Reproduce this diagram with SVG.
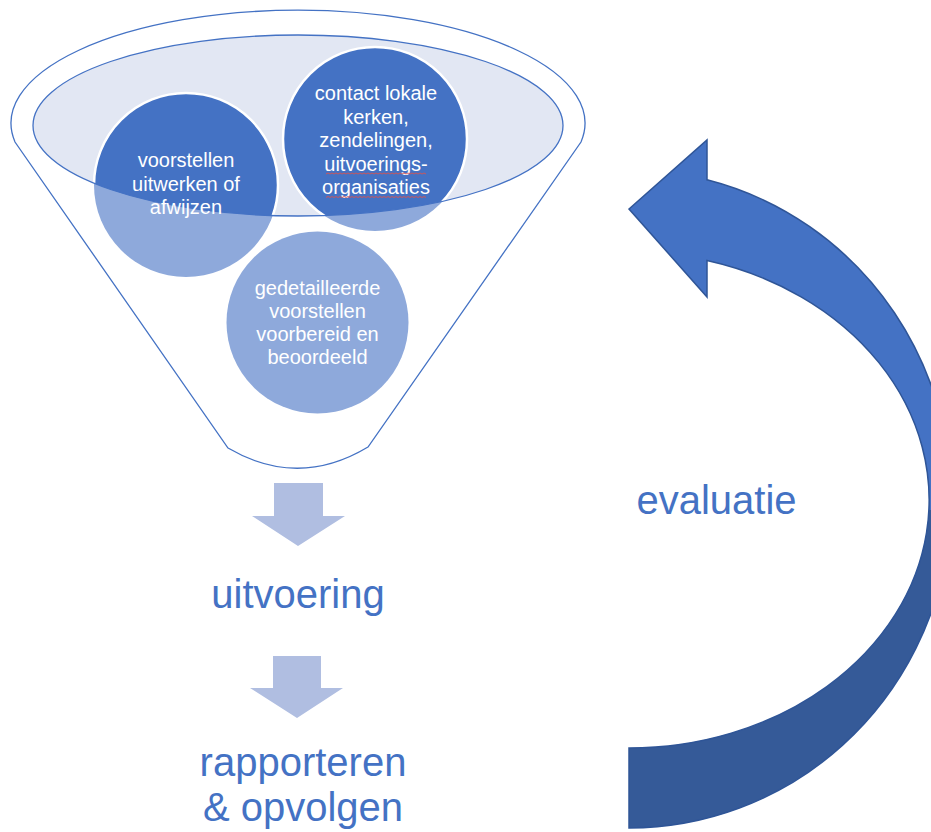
<svg xmlns="http://www.w3.org/2000/svg" width="931" height="832" viewBox="0 0 931 832">
<style>
.ctext{font-family:"Liberation Sans",Arial,sans-serif;font-size:20px;fill:#ffffff;text-anchor:middle}
.big{font-family:"Liberation Sans",Arial,sans-serif;font-size:40px;fill:#4472C4;text-anchor:middle}
.light{fill:#8EA9DB}
.dark{fill:#4472C4;stroke:#ffffff;stroke-width:2.5}
.down{fill:#B0BEE1}
.squig{fill:none;stroke:#D9534F;stroke-width:0.9}
</style>
<defs>
<clipPath id="inner"><ellipse cx="298" cy="125.5" rx="265" ry="90.5"/></clipPath>
</defs>
<g id="funnel">
<path d="M15,142 A287 113 0 1 1 581,142 L368,447 Q298,489 228,448 Z" fill="#ffffff" stroke="#4472C4" stroke-width="1.3"/>
<ellipse cx="298" cy="125.5" rx="265" ry="90.5" fill="#E2E7F3"/>
</g>
<g id="node-voorstellen">
<circle class="light" cx="186" cy="185" r="92"/>
<circle class="dark" cx="186" cy="185" r="92" clip-path="url(#inner)"/>
</g>
<g id="node-contact">
<circle class="light" cx="375" cy="139" r="92"/>
<circle class="dark" cx="375" cy="139" r="92" clip-path="url(#inner)"/>
</g>
<g id="node-gedetailleerde">
<circle class="light" cx="317.5" cy="322.5" r="91"/>
</g>
<ellipse cx="298" cy="125.5" rx="265" ry="90.5" fill="none" stroke="#4472C4" stroke-width="1.3"/>
<g id="labels-circles">
<text class="ctext" x="186" y="167">voorstellen</text>
<text class="ctext" x="186" y="190.5">uitwerken of</text>
<text class="ctext" x="186" y="214">afwijzen</text>
<text class="ctext" x="376" y="100">contact lokale</text>
<text class="ctext" x="376" y="123.5">kerken,</text>
<text class="ctext" x="376" y="147">zendelingen,</text>
<text class="ctext" x="376" y="170.5">uitvoerings-</text>
<text class="ctext" x="376" y="194">organisaties</text>
<path class="squig" d="M326,174 l2,-1 l2,1 l2,-1 l2,1 l2,-1 l2,1 l2,-1 l2,1 l2,-1 l2,1 l2,-1 l2,1 l2,-1 l2,1 l2,-1 l2,1 l2,-1 l2,1 l2,-1 l2,1 l2,-1 l2,1 l2,-1 l2,1 l2,-1 l2,1 l2,-1 l2,1 l2,-1 l2,1 l2,-1 l2,1 l2,-1 l2,1 l2,-1 l2,1 l2,-1 l2,1 l2,-1 l2,1 l2,-1 l2,1 l2,-1 l2,1 l2,-1 l2,1 l2,-1 l2,1 l2,-1 l2,1"/>
<path class="squig" d="M326,197.5 l2,-1 l2,1 l2,-1 l2,1 l2,-1 l2,1 l2,-1 l2,1 l2,-1 l2,1 l2,-1 l2,1 l2,-1 l2,1 l2,-1 l2,1 l2,-1 l2,1 l2,-1 l2,1 l2,-1 l2,1 l2,-1 l2,1 l2,-1 l2,1 l2,-1 l2,1 l2,-1 l2,1 l2,-1 l2,1 l2,-1 l2,1 l2,-1 l2,1 l2,-1 l2,1 l2,-1 l2,1 l2,-1 l2,1 l2,-1 l2,1 l2,-1 l2,1 l2,-1 l2,1 l2,-1 l2,1"/>
<text class="ctext" x="317.5" y="295">gedetailleerde</text>
<text class="ctext" x="317.5" y="318">voorstellen</text>
<text class="ctext" x="317.5" y="341">voorbereid en</text>
<text class="ctext" x="317.5" y="364">beoordeeld</text>
</g>
<g id="node-uitvoering">
<text class="big" x="298" y="608">uitvoering</text>
</g>
<g id="node-rapporteren">
<text class="big" x="303" y="776">rapporteren</text>
<text class="big" x="303" y="821">&amp; opvolgen</text>
</g>
<g id="node-evaluatie">
<text class="big" x="716.5" y="514">evaluatie</text>
</g>
<g id="connectors">
<path class="down" d="M274,483 L323,483 L323,516 L345,516 L298,546 L252,516 L274,516 Z"/>
<path class="down" d="M273,656 L321,656 L321,688 L343,688 L297,718 L250,688 L273,688 Z"/>
<path d="M629,209 L707,140 L707,179.8 A322 329 0 0 1 950.8,510 L928.8,510 A300 248 0 0 0 707,260.5 L707,297 Z" fill="#4472C4"/>
<path d="M950.8,510 A322 329 0 0 1 629,828 L629,748 A300 248 0 0 0 928.8,510 Z" fill="#355A98"/>
<path d="M629,209 L707,140 L707,179.8 A322 329 0 0 1 629,828 L629,748 A300 248 0 0 0 707,260.5 L707,297 Z" fill="none" stroke="#2F5597" stroke-width="1.5" stroke-linejoin="miter"/>
</g>
</svg>
